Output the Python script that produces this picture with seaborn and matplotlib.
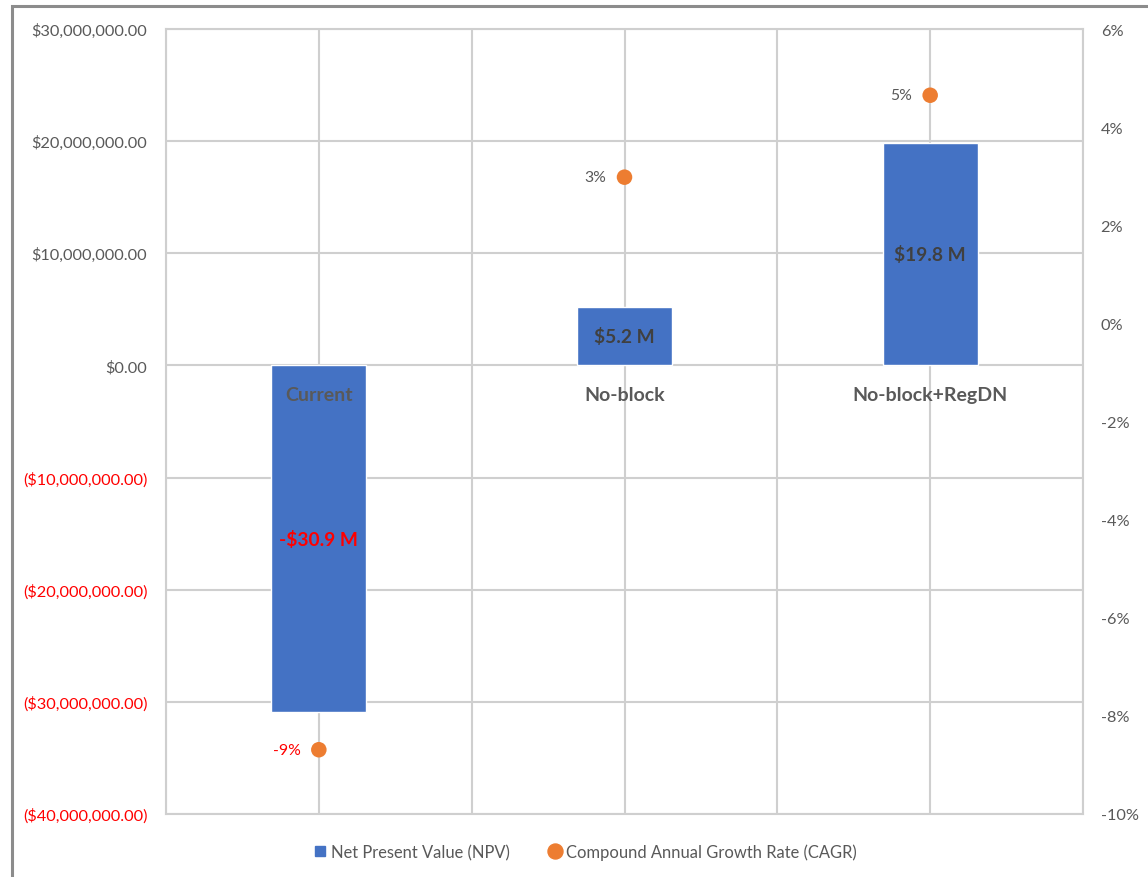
import matplotlib
matplotlib.use("Agg")
import matplotlib.pyplot as plt
from matplotlib.lines import Line2D
from matplotlib.patches import Rectangle
from matplotlib.ticker import FuncFormatter, MultipleLocator
import seaborn as sns
import pandas as pd

# Scenario data
scenarios = ["Current", "No-block", "No-block+RegDN"]
npv_millions = [-30.9, 5.2, 19.8]
cagr_pct = [-8.69, 2.98, 4.65]
npv_labels = ["-$30.9 M", "$5.2 M", "$19.8 M"]
cagr_labels = ["-9%", "3%", "5%"]

BLUE = "#4472C4"
ORANGE = "#ED7D31"
GRID = "#CFCFCF"
TXT = "#595959"
DARK = "#404040"
RED = "#FF0000"

sns.set_theme(style="white")
plt.rcParams["font.family"] = ["Lato", "DejaVu Sans"]

df = pd.DataFrame({"scenario": scenarios,
                   "npv": [v * 1e6 for v in npv_millions],
                   "cagr": cagr_pct})

fig = plt.figure(figsize=(11.48, 8.78), dpi=100)
ax = fig.add_axes([166 / 1148, 1 - 815 / 878, (1083 - 166) / 1148, (815 - 30) / 878])

sns.barplot(data=df, x="scenario", y="npv", order=scenarios, color=BLUE,
            saturation=1, width=0.31, ax=ax, zorder=2)
ax.set_xlim(-0.5, 2.5)
ax.set_ylim(-40e6, 30e6)
ax.yaxis.set_major_locator(MultipleLocator(10e6))


def money(v, pos=None):
    if abs(v) < 1:
        return "$0.00"
    s = f"${abs(v):,.2f}"
    return f"({s})" if v < 0 else s


ax.yaxis.set_major_formatter(FuncFormatter(money))
ax.set_xlabel("")
ax.set_ylabel("")
ax.set_xticks([])
ax.tick_params(axis="y", length=0, pad=13.5, labelsize=11.8, labelcolor=TXT)
for lbl, v in zip(ax.get_yticklabels(), ax.get_yticks()):
    if v < 0:
        lbl.set_color(RED)

# Grid: horizontal at each $10M, vertical at every half category
for v in ax.get_yticks():
    ax.axhline(v, color=GRID, lw=1.5, zorder=0)
for x in [-0.5, 0, 0.5, 1, 1.5, 2, 2.5]:
    ax.axvline(x, color=GRID, lw=1.5, zorder=0)
for sp in ax.spines.values():
    sp.set_color(GRID)
    sp.set_linewidth(1.5)

# Bar value labels and category names
for i, (v, lab) in enumerate(zip(npv_millions, npv_labels)):
    ax.text(i, v * 1e6 / 2, lab, ha="center", va="center", fontsize=13.8,
            fontweight="bold", color=RED if v < 0 else DARK, zorder=4)
    ax.annotate(scenarios[i], xy=(i, 0), xytext=(0, -21), textcoords="offset points",
                ha="center", va="center", fontsize=14, fontweight="bold",
                color=TXT, zorder=4)

# Secondary axis: CAGR points
ax2 = ax.twinx()
sns.scatterplot(data=df, x="scenario", y="cagr", color=ORANGE, s=125,
                edgecolor="none", ax=ax2, zorder=5, legend=False)
ax2.set_xlim(-0.5, 2.5)
ax2.set_ylim(-10, 6)
ax2.yaxis.set_major_locator(MultipleLocator(2))
ax2.yaxis.set_major_formatter(FuncFormatter(lambda v, p: f"{v:.0f}%"))
ax2.set_xlabel("")
ax2.set_ylabel("")
ax2.tick_params(axis="y", length=0, pad=12.7, labelsize=11.8, labelcolor=TXT)
for sp in ax2.spines.values():
    sp.set_visible(False)

for i, (v, lab) in enumerate(zip(cagr_pct, cagr_labels)):
    ax2.annotate(lab, xy=(i, v), xytext=(-13, 0), textcoords="offset points",
                 ha="right", va="center", fontsize=11.3,
                 color=RED if v < 0 else TXT)

# Legend
handles = [Line2D([], [], marker="s", linestyle="none", markersize=7.2,
                  markerfacecolor=BLUE, markeredgecolor=BLUE),
           Line2D([], [], marker="o", linestyle="none", markersize=10.8,
                  markerfacecolor=ORANGE, markeredgecolor=ORANGE)]
fig.legend(handles, ["Net Present Value (NPV)", "Compound Annual Growth Rate (CAGR)"],
           loc="center", bbox_to_anchor=(0.509, 1 - 853 / 878), ncol=2, frameon=False,
           fontsize=11.9, labelcolor=TXT, handlelength=1.0, handletextpad=0.2,
           columnspacing=2.2)

# Chart area border
fig.patches.append(Rectangle((12 / 1148, -0.1), 1.2, 1.1 - 7 / 878,
                             transform=fig.transFigure, fill=False,
                             edgecolor="#8C8C8C", lw=2.2))

fig.savefig("out.png", dpi=100)
